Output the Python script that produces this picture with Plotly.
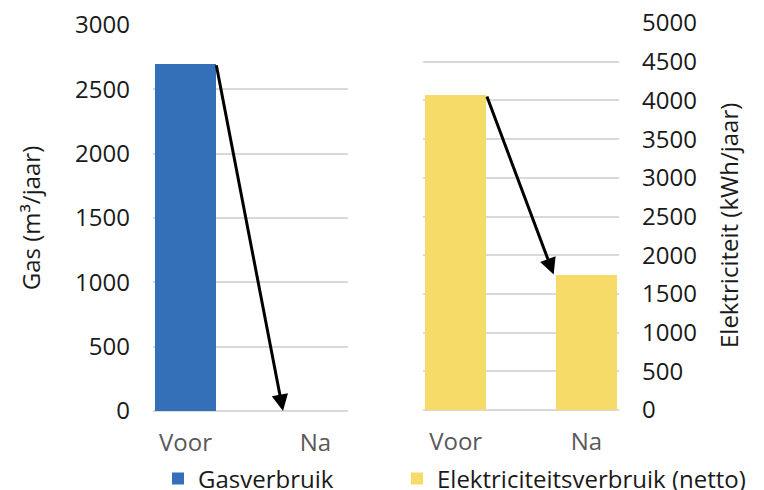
import plotly.graph_objects as go

categories = ["Voor", "Na"]
gas_values = [2700, 0]            # m³/jaar
elec_values = [4070, 1750]        # kWh/jaar
gas_ticks = [0, 500, 1000, 1500, 2000, 2500, 3000]
elec_ticks = [0, 500, 1000, 1500, 2000, 2500, 3000, 3500, 4000, 4500, 5000]

FONT = "Open Sans"
GAS_COLOR = "#3470B8"
ELEC_COLOR = "#F7DB69"
GRID = "#D9D9D9"
BAR_W = 0.47

W, H = 764, 490
OFF = 8  # page body margin offset


def ydom(px_bottom, px_top):
    return [(H - (px_bottom - OFF)) / H, (H - (px_top - OFF)) / H]


def xdom(px_left, px_right):
    return [(px_left - OFF) / W, (px_right - OFF) / W]


fig = go.Figure()
fig.add_trace(go.Bar(x=categories, y=gas_values, name="Gasverbruik",
                     marker=dict(color=GAS_COLOR, line=dict(width=0)),
                     width=BAR_W, xaxis="x", yaxis="y", legend="legend"))
fig.add_trace(go.Bar(x=categories, y=elec_values, name="Elektriciteitsverbruik (netto)",
                     marker=dict(color=ELEC_COLOR, line=dict(width=0)),
                     width=BAR_W, xaxis="x2", yaxis="y2", legend="legend2"))

# arrows from top of "Voor" bar to "Na"
head_x = 1 - 0.25
tail_x = BAR_W / 2
for xr, yr, vals in (("x", "y", gas_values), ("x2", "y2", elec_values)):
    fig.add_annotation(x=head_x, y=vals[1], ax=tail_x, ay=vals[0],
                       xref=xr, yref=yr, axref=xr, ayref=yr, text="",
                       showarrow=True, arrowhead=2, arrowsize=1.1,
                       arrowwidth=3, arrowcolor="black", standoff=0)

# right axis title (placed as rotated text for exact position)
fig.add_annotation(text="Elektriciteit (kWh/jaar)", textangle=-90,
                   xref="paper", yref="paper", showarrow=False,
                   x=(728 - OFF) / W, y=(H - (226 - OFF)) / H,
                   xanchor="center", yanchor="middle",
                   font=dict(family=FONT, size=24, color="#1A1A1A"))

xcommon = dict(type="category", range=[-0.25, 1.25], showgrid=False,
               showline=False, zeroline=False, ticks="", automargin=False,
               tickfont=dict(family=FONT, size=24, color="#595959"),
               ticklabelstandoff=15, fixedrange=True)
ycommon = dict(showgrid=True, gridcolor=GRID, gridwidth=1.5, zeroline=True,
               zerolinecolor=GRID, zerolinewidth=2, showline=False, ticks="",
               automargin=False, ticklabeloverflow="allow",
               tickfont=dict(family=FONT, size=24, color="#1A1A1A"))

legcommon = dict(xref="container", yref="container", xanchor="left",
                 yanchor="middle", orientation="h", bgcolor="rgba(0,0,0,0)",
                 font=dict(family=FONT, size=24, color="#1A1A1A"))

fig.update_layout(
    width=W, height=H, autosize=False,
    margin=dict(l=0, r=0, t=0, b=0, autoexpand=False),
    paper_bgcolor="white", plot_bgcolor="white",
    font=dict(family=FONT, color="#1A1A1A"),
    bargap=0,
    xaxis=dict(domain=xdom(153, 348), anchor="y", **xcommon),
    xaxis2=dict(domain=xdom(423, 619), anchor="y2", **xcommon),
    yaxis=dict(domain=ydom(411, 25), anchor="x",
               range=[0, gas_ticks[-1] * 1.0002], tickvals=gas_ticks, side="left",
               ticklabelstandoff=22,
               title=dict(text="Gas (m³/jaar)", standoff=27,
                          font=dict(family=FONT, size=24, color="#1A1A1A")),
               **ycommon),
    yaxis2=dict(domain=ydom(410, 23), anchor="x2",
                range=[0, elec_ticks[-1] * 1.0002], tickvals=elec_ticks, side="right",
                ticklabelstandoff=22,
                **ycommon),
    legend=dict(x=150 / W, y=(H - (479 - OFF)) / H, **legcommon),
    legend2=dict(x=389 / W, y=(H - (479 - OFF)) / H, **legcommon),
    showlegend=True,
)

fig.write_html("out.html")
